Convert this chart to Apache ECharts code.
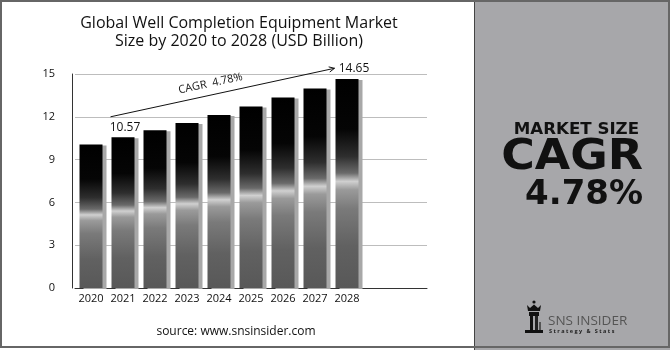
<!DOCTYPE html>
<html>
<head>
<meta charset="utf-8">
<script src="https://cdn.jsdelivr.net/npm/echarts@6/dist/echarts.min.js"></script>
<style>
  html, body { margin: 0; padding: 0; background: #fff; }
  #chart { width: 670px; height: 350px; }
</style>
</head>
<body>
<div id="chart"></div>
<script>
// Market size by year, USD billion
const years = ['2020', '2021', '2022', '2023', '2024', '2025', '2026', '2027', '2028'];
const marketSize = [10.05, 10.57, 11.05, 11.57, 12.13, 12.72, 13.35, 13.98, 14.65];
const labelledYears = ['2021', '2028'];
const yTicks = { min: 0, max: 15, interval: 3 };
const cagrText = '4.78%';

const chart = echarts.init(document.getElementById('chart'));

const barFill = new echarts.graphic.LinearGradient(0, 0, 0, 1, [
  { offset: 0, color: '#000000' },
  { offset: 0.24, color: '#050505' },
  { offset: 0.37, color: '#2e2e2e' },
  { offset: 0.45, color: '#6a6a6a' },
  { offset: 0.49, color: '#d0d0d0' },
  { offset: 0.53, color: '#9a9a9a' },
  { offset: 0.62, color: '#7a7a7a' },
  { offset: 0.8, color: '#616161' },
  { offset: 1, color: '#585858' }
]);

const seriesData = marketSize.map((v, i) => ({
  value: v,
  label: {
    show: labelledYears.includes(years[i]),
    offset: [i === years.length - 1 ? 7 : 2, 0]
  }
}));

const font = '"Open Sans", "Noto Sans", sans-serif';
const heavy = '"DejaVu Sans", sans-serif';

chart.setOption({
  animation: false,
  backgroundColor: '#ffffff',
  title: {
    text: 'Global Well Completion Equipment Market\nSize by 2020 to 2028 (USD Billion)',
    left: 234,
    textAlign: 'center',
    top: 9,
    textStyle: { fontFamily: font, fontSize: 16, fontWeight: 'normal', color: '#111', lineHeight: 18 }
  },
  grid: { left: 75, right: 243, top: 74, bottom: 62, containLabel: false },
  xAxis: {
    type: 'category',
    data: years,
    max: 10,
    axisLine: { lineStyle: { color: '#333', width: 1 } },
    axisTick: { show: false },
    axisLabel: { interval: 0, fontFamily: font, fontSize: 11, color: '#111', margin: 5 }
  },
  yAxis: {
    type: 'value',
    min: yTicks.min,
    max: yTicks.max,
    interval: yTicks.interval,
    offset: 3,
    axisLine: { show: true, lineStyle: { color: '#333', width: 1 } },
    axisTick: { show: false },
    axisLabel: { fontFamily: font, fontSize: 11, color: '#111', margin: 17 },
    splitLine: { lineStyle: { color: '#bdbdbd', width: 1 } }
  },
  series: [{
    type: 'bar',
    data: seriesData,
    barWidth: 23,
    itemStyle: {
      color: barFill,
      shadowColor: '#a8a8a8',
      shadowOffsetX: 4,
      shadowOffsetY: 1,
      shadowBlur: 0
    },
    label: {
      position: 'top',
      distance: 4,
      fontFamily: font,
      fontSize: 12,
      color: '#111',
      formatter: p => p.value.toFixed(2)
    }
  }]
});

// CAGR arrow from the 2021 bar toward the 2028 bar
const barHalf = 11.5;
const p0 = chart.convertToPixel({ gridIndex: 0 }, [1, 12]);
const p1 = chart.convertToPixel({ gridIndex: 0 }, [8, 15.4]);
const x0 = p0[0] - barHalf - 1, y0 = p0[1];
const x1 = p1[0] - barHalf - 1, y1 = p1[1];
const ang = Math.atan2(y1 - y0, x1 - x0);
const ah = 6;
const mid = [(x0 + x1) / 2 - 12, (y0 + y1) / 2 - 9];

chart.setOption({
  graphic: [
    // right side panel
    { type: 'rect', z: -10, shape: { x: 474, y: 0, width: 196, height: 350 },
      style: { fill: '#a7a7aa' } },
    { type: 'line', z: 100, shape: { x1: 474.5, y1: 0, x2: 474.5, y2: 350 },
      style: { stroke: '#444', lineWidth: 1 } },
    // outer frame
    { type: 'rect', z: 100, shape: { x: 1, y: 1, width: 668, height: 346 },
      style: { fill: 'none', stroke: '#666', lineWidth: 2 } },
    // arrow
    { type: 'line', z: 50, shape: { x1: x0, y1: y0, x2: x1, y2: y1 },
      style: { stroke: '#111', lineWidth: 1 } },
    { type: 'polyline', z: 50, shape: { points: [
        [x1 - ah * Math.cos(ang - 0.45), y1 - ah * Math.sin(ang - 0.45)],
        [x1, y1],
        [x1 - ah * Math.cos(ang + 0.45), y1 - ah * Math.sin(ang + 0.45)]
      ] }, style: { stroke: '#111', lineWidth: 1, fill: 'none' } },
    { type: 'text', z: 50, x: mid[0], y: mid[1], rotation: -ang,
      style: { text: 'CAGR  ' + cagrText, fontFamily: font, fontSize: 11, fill: '#111',
        align: 'center', verticalAlign: 'middle' } },
    // source note
    { type: 'text', x: 236, y: 332,
      style: { text: 'source: www.snsinsider.com', fontFamily: font, fontSize: 12, fill: '#111',
        align: 'center', verticalAlign: 'middle' } },
    // side panel headline
    { type: 'text', x: 639, y: 130, scaleX: 1.04, originX: 0,
      style: { text: 'MARKET SIZE', fontFamily: heavy, fontWeight: 'bold',
        fontSize: 16, fill: '#111', align: 'right', verticalAlign: 'middle' } },
    { type: 'text', x: 643, y: 158, scaleX: 1.09, originX: 0,
      style: { text: 'CAGR', fontFamily: heavy, fontWeight: 'bold',
        fontSize: 42, fill: '#111', align: 'right', verticalAlign: 'middle' } },
    { type: 'text', x: 643, y: 195, scaleX: 1.03, originX: 0,
      style: { text: cagrText, fontFamily: heavy, fontWeight: 'bold',
        fontSize: 33, fill: '#111', align: 'right', verticalAlign: 'middle' } },
    // logo mark
    { type: 'group', x: 525, y: 300, children: [
      { type: 'circle', shape: { cx: 9, cy: 2, r: 1.6 }, style: { fill: '#111' } },
      { type: 'polygon', shape: { points: [[2, 5], [5, 8], [9, 4.5], [13, 8], [16, 5], [15, 11], [3, 11]] },
        style: { fill: '#111' } },
      { type: 'rect', shape: { x: 4, y: 12, width: 10, height: 4 }, style: { fill: '#111' } },
      { type: 'rect', shape: { x: 5, y: 16, width: 3, height: 14 }, style: { fill: '#111' } },
      { type: 'rect', shape: { x: 10, y: 16, width: 3, height: 14 }, style: { fill: '#222' } },
      { type: 'rect', shape: { x: 0, y: 30, width: 18, height: 3 }, style: { fill: '#111' } },
      { type: 'rect', shape: { x: 14, y: 22, width: 2, height: 8 }, style: { fill: '#555' } }
    ] },
    { type: 'text', x: 548, y: 321,
      style: { text: 'SNS INSIDER', fontFamily: font, fontSize: 13.5, fill: '#555',
        align: 'left', verticalAlign: 'middle' } },
    { type: 'text', x: 549, y: 331,
      style: { text: 'S t r a t e g y   &   S t a t s', fontFamily: font, fontWeight: 'bold',
        fontSize: 5.5, fill: '#222', align: 'left', verticalAlign: 'middle' } }
  ]
});
</script>
</body>
</html>
